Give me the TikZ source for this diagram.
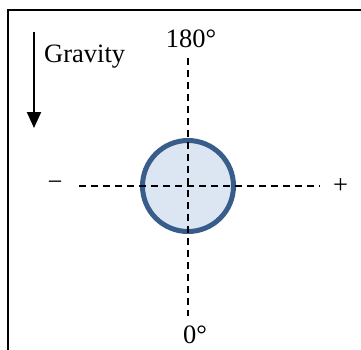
\documentclass[tikz,border=0pt]{standalone}
\usepackage{fontspec}
\setmainfont{Liberation Serif}
\usetikzlibrary{arrows.meta}
\definecolor{ringblue}{HTML}{385D8A}
\definecolor{fillblue}{HTML}{DCE6F2}
\begin{document}
\begin{tikzpicture}[x=1pt,y=-1pt,
  lbl/.style={inner sep=0pt,font=\fontsize{26.5}{30}\selectfont},
  axis/.style={black,line width=2pt,dash pattern=on 7pt off 5pt},
  frame/.style={black,line width=1.3pt}]
\useasboundingbox (0,0) rectangle (361,349);
% frame
\draw[frame] (8,350) -- (8,10) -- (362,10);
% gravity arrow
\coordinate (gtop) at (34,32);
\coordinate (gbot) at (34,128);
\draw[line width=2pt,-{Triangle[length=16pt,width=14pt]}] (gtop) -- (gbot);
\node[lbl,anchor=base west] (grav) at (44,62) {Gravity};
% circle
\node[circle,draw=ringblue,fill=fillblue,line width=5pt,minimum size=91pt,inner sep=0pt] (pipe) at (188,186) {};
% labels
\node[lbl,anchor=base] (top) at (191,47) {180°};
\node[lbl,anchor=base] (bot) at (195,343) {0°};
\node[lbl] (minus) at (55,186) {−};
\node[lbl] (plus) at (340.5,186) {+};
% axes
\coordinate (vt) at (188,58);
\coordinate (vb) at (188,316);
\coordinate (hl) at (79,186);
\coordinate (hr) at (320,186);
\draw[axis] (vt) -- (vb);
\draw[axis] (hl) -- (hr);
\end{tikzpicture}
\end{document}
